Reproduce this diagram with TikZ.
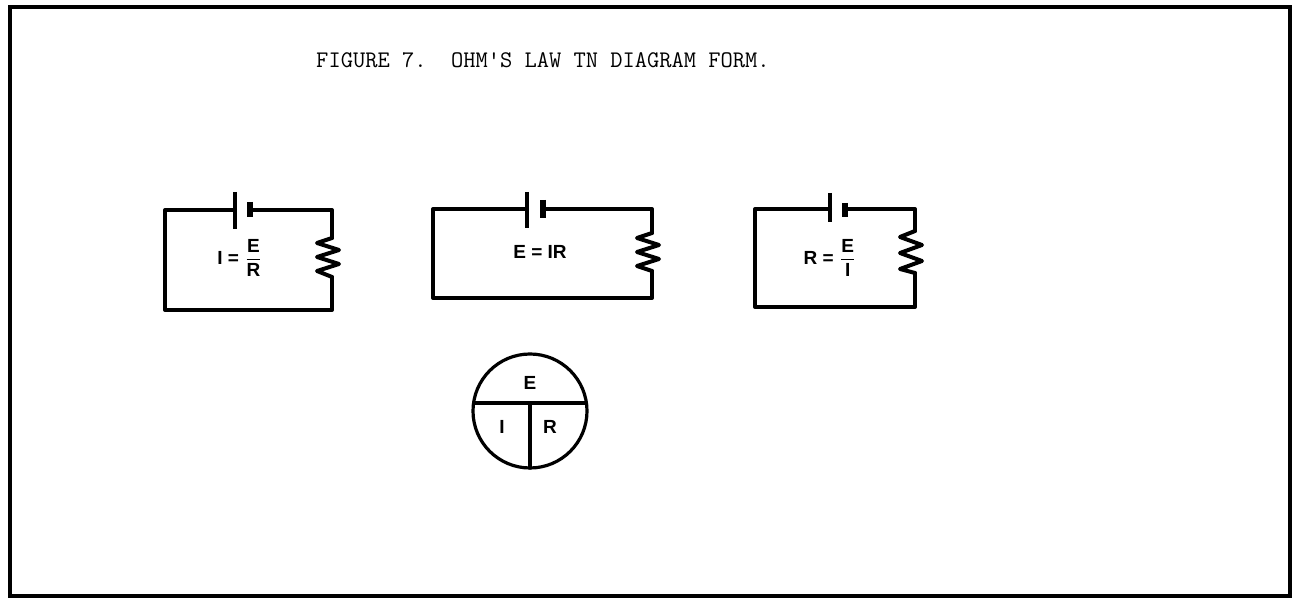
\documentclass[tikz,border=0pt]{standalone}
\usepackage{amsmath}
\usepackage{fontspec}
\setsansfont{Liberation Sans}
\usepackage{tikz}
\tikzset{
    frame/.style={line width=2pt},
    wire/.style={
        line width=2pt,
        line cap=round,
        line join=round
    },
    ring/.style={wire, line width=1.6pt},
    longplate/.style={line width=2pt},
    shortplate/.style={line width=3pt},
    eqn/.style={
        font=\sffamily\bfseries\fontsize{9.5}{10}\selectfont,
        inner sep=0pt
    },
    caption/.style={font=\ttfamily\fontsize{11.9}{13}\selectfont},
}
\newcommand{\sfb}[1]{\textsf{\bfseries #1}}

\begin{document}
\begin{tikzpicture}
            [x=0.5pt, y=-0.5pt]
            \useasboundingbox (0,0) rectangle (1292,598);
            \draw[frame] (10,7) rectangle (1290,596);

            \node[caption] (title) at (543,60) {FIGURE 7.\ \ OHM'S LAW TN DIAGRAM FORM.};

            % Draw left circuit
            \coordinate (ca1) at (165,210);
            \coordinate (cb1) at (165,310);
            \coordinate (cc1) at (332,310);
            \coordinate (cd1) at (332,210);
            \coordinate (bl1) at (235,210);
            \coordinate (bs1) at (250,210);
            \coordinate (rt1) at (332,238);
            \coordinate (rb1) at (332,277);

            \draw[wire] (bl1) -- (ca1) -- (cb1) -- (cc1) -- (rb1);
            \draw[wire] (bs1) -- (cd1) -- (rt1);
            \draw[wire] (rt1) -- ++(-15,5) -- ++(22,7) -- ++(-22,7) -- ++(22,7) -- ++(-22,7) -- (rb1);
            \draw[longplate] (235,192) -- (235,229);
            \draw[shortplate] (250,202) -- (250,217);

            \node[eqn] (law1) at (240,258) {\sfb{I} = $\dfrac{\text{\sfb{E}}}{\text{\sfb{R}}}$};

            % Draw middle circuit
            \coordinate (ca2) at (433,209);
            \coordinate (cb2) at (433,298);
            \coordinate (cc2) at (652,298);
            \coordinate (cd2) at (652,209);
            \coordinate (bl2) at (527,209);
            \coordinate (bs2) at (543,209);
            \coordinate (rt2) at (652,233);
            \coordinate (rb2) at (652,271);

            \draw[wire] (bl2) -- (ca2) -- (cb2) -- (cc2) -- (rb2);
            \draw[wire] (bs2) -- (cd2) -- (rt2);
            \draw[wire] (rt2) -- ++(-15,5) -- ++(22,7) -- ++(-22,7) -- ++(22,7) -- ++(-22,7) -- (rb2);
            \draw[longplate] (527,192) -- (527,228);
            \draw[shortplate] (543,200) -- (543,218);

            \node[eqn] (law2) at (540,252) {E = IR};

            % Draw right circuit
            \coordinate (ca3) at (755,209);
            \coordinate (cb3) at (755,307);
            \coordinate (cc3) at (915,307);
            \coordinate (cd3) at (915,209);
            \coordinate (bl3) at (830,209);
            \coordinate (bs3) at (845,209);
            \coordinate (rt3) at (915,231);
            \coordinate (rb3) at (915,273);

            \draw[wire] (bl3) -- (ca3) -- (cb3) -- (cc3) -- (rb3);
            \draw[wire] (bs3) -- (cd3) -- (rt3);
            \draw[wire] (rt3) -- ++(-15,6) -- ++(22,8) -- ++(-22,8) -- ++(22,8) -- ++(-22,8) -- (rb3);
            \draw[longplate] (830,193) -- (830,222);
            \draw[shortplate] (845,203) -- (845,217);

            \node[eqn] (law3) at (830,258) {\sfb{R} = $\dfrac{\text{\sfb{E}}}{\text{\sfb{I}}}$};

            % Draw the memory circle
            \coordinate (ohm) at (530,411);
            \coordinate (ohmL) at (473.6,403);
            \coordinate (ohmR) at (586.4,403);
            \coordinate (ohmM) at (530,403);
            \coordinate (ohmB) at (530,468);

            \draw[ring] (ohm) circle[radius=28.5pt];
            \draw[ring] (ohmL) -- (ohmR);
            \draw[ring] (ohmM) -- (ohmB);

            \node[eqn] (symE) at (530,383) {E};
            \node[eqn] (symI) at (502,427) {I};
            \node[eqn] (symR) at (550,427) {R};

        \end{tikzpicture}
\end{document}
